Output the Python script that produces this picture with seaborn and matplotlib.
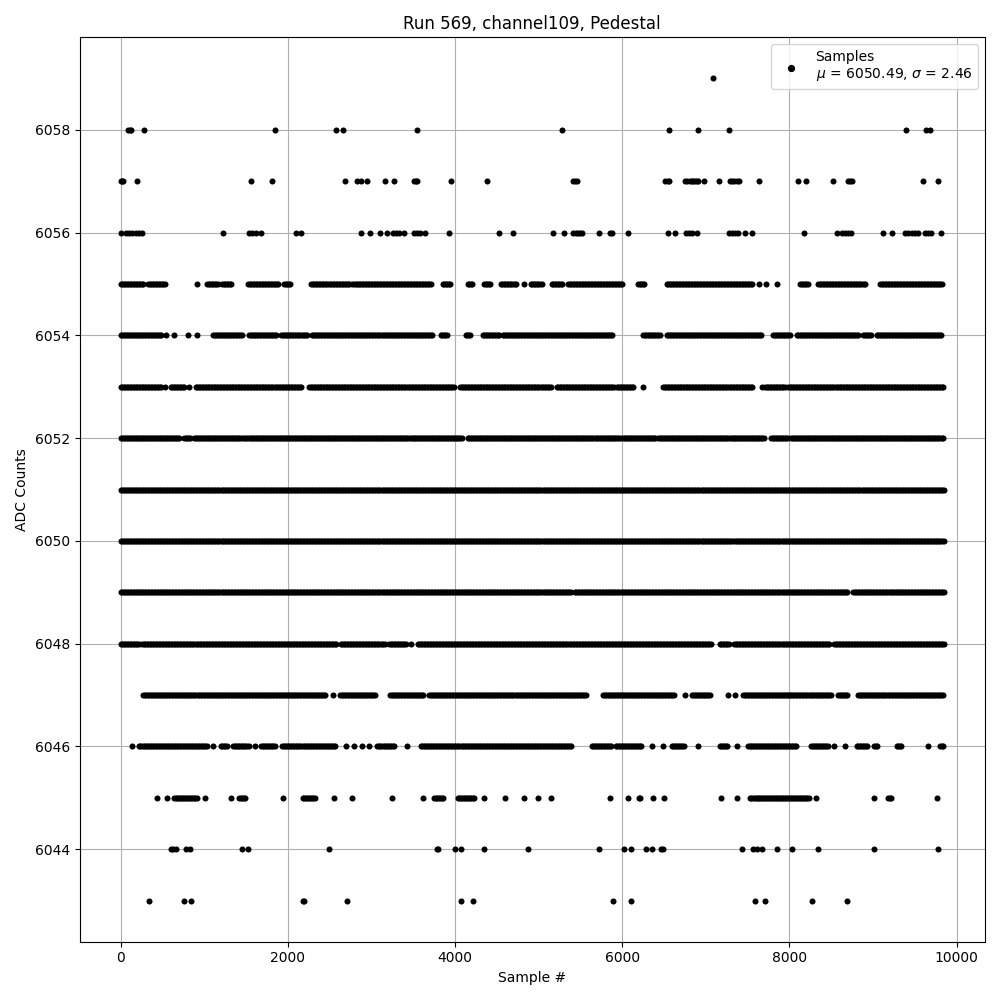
import numpy as np
import pandas as pd
import matplotlib
matplotlib.use('Agg')
import matplotlib.pyplot as plt
import seaborn as sns

# ------------------------------------------------------------
# Valori (sample # pentru fiecare nivel ADC)
# ------------------------------------------------------------
RUN = 569
CHANNEL = 109
MU = 6050.49
SIGMA = 2.46

# niveluri rare: pozitii individuale
samples_6059 = [7089]
samples_6058 = [88, 112, 128, 279, 1843, 2573, 2665, 3543, 5274, 6563, 6910,
                7281, 9399, 9639, 9687]
samples_6057 = [0, 16, 32, 192, 1556, 1807, 2681, 2825, 2873, 2945, 3160, 3268,
                3503, 3527, 3543, 3950, 4381, 5405, 5433, 5453, 6511, 6543, 6563,
                6750, 6770, 6810, 6830, 6850, 6870, 6890, 6910, 6982, 7161, 7289,
                7317, 7341, 7369, 7397, 7640, 8107, 8195, 8526, 8697, 8721, 8745,
                9603, 9783]
samples_6056 = [8, 60, 100, 140, 180, 219, 259, 1229, 1536, 1576, 1616, 1676,
                2095, 2155, 2873, 2981, 3100, 3184, 3252, 3292, 3332, 3384, 3503,
                3543, 3583, 3639, 3922, 4529, 4688, 5174, 5306, 5413, 5441, 5465,
                5493, 5521, 5725, 5852, 5880, 6072, 6551, 6630, 6758, 6798, 6838,
                6890, 7281, 7309, 7349, 7389, 7468, 7548, 8179, 8566, 8625, 8665,
                8705, 8737, 9124, 9224, 9384, 9423, 9463, 9503, 9543, 9623, 9663,
                9695, 9814]
samples_6044 = [606, 630, 658, 778, 830, 1456, 1524, 2490, 3783, 3799, 3998, 4070,
                4349, 4876, 5725, 6024, 6100, 6279, 6359, 6463, 6491, 7429, 7568,
                7608, 7668, 7847, 8035, 8338, 9016, 9775]
samples_6043 = [335, 754, 838, 2183, 2195, 2705, 4070, 4213, 5892, 6100, 7588,
                7708, 8274, 8693]

# niveluri dese: intervale (start, stop) in care punctele se suprapun
runs_6055 = [(0, 279), (327, 539), (910, 910), (1037, 1169), (1217, 1337),
             (1524, 1895), (1955, 2027), (2282, 2745), (2773, 3719), (3850, 3950),
             (4150, 4217), (4349, 4429), (4549, 4740), (4828, 4828), (4908, 5034),
             (5154, 5294), (5354, 6012), (6192, 6271), (6531, 7568), (7636, 7636),
             (7716, 7716), (7847, 7847), (8127, 8226), (8346, 8905), (9084, 9822)]
runs_6054 = [(0, 499), (539, 539), (638, 638), (806, 806), (910, 910),
             (1109, 1456), (1536, 1867), (1923, 2234), (2286, 3731), (3830, 3918),
             (4130, 4190), (4329, 4529), (4569, 5892), (6251, 6451), (6531, 7668),
             (7808, 8007), (8087, 8825), (8885, 8984), (9044, 9830)]
runs_6053 = [(0, 499), (527, 527), (598, 766), (818, 818), (898, 2175),
             (2255, 3990), (4062, 5154), (5214, 5912), (5932, 6132), (6251, 6251),
             (6491, 7568), (7668, 7668), (7708, 7947), (7987, 9850)]
runs_6052 = [(0, 718), (758, 830), (878, 1437), (1469, 4090), (4150, 5972),
             (6000, 6411), (6431, 7708), (7780, 7987), (8019, 9850)]
runs_6051 = [(0, 9850)]
runs_6050 = [(0, 7309), (7341, 9850)]
runs_6049 = [(0, 5394), (5433, 8705), (8765, 9850)]
runs_6048 = [(0, 219), (259, 2594), (2634, 3172), (3212, 3411), (3471, 3471),
             (3551, 7069), (7169, 7289), (7341, 8486), (8533, 9850)]
runs_6047 = [(271, 2454), (2534, 2534), (2625, 3052), (3224, 3631), (3691, 5573),
             (5773, 6630), (6750, 6750), (6830, 7061), (7261, 7261), (7349, 7349),
             (7448, 8506), (8586, 8705), (8825, 9850)]
runs_6046 = [(140, 140), (219, 1030), (1109, 1109), (1197, 1277), (1349, 1536),
             (1604, 1604), (1684, 1855), (1935, 2574), (2693, 2693), (2793, 2793),
             (2881, 2881), (2972, 2972), (3072, 3280), (3424, 3424), (3591, 5394),
             (5633, 5872), (5920, 6239), (6351, 6351), (6491, 6491), (6591, 6750),
             (6910, 6910), (7169, 7269), (7377, 7377), (7508, 8087), (8259, 8466),
             (8538, 8538), (8666, 8666), (8805, 8944), (9016, 9064), (9283, 9343),
             (9663, 9663), (9803, 9850)]
runs_6045 = [(439, 439), (559, 559), (638, 918), (1005, 1005), (1317, 1317),
             (1417, 1496), (1947, 1947), (2175, 2334), (2554, 2554), (2765, 2765),
             (3244, 3244), (3611, 3611), (3751, 3870), (4030, 4229), (4341, 4341),
             (4601, 4601), (4828, 4828), (4988, 5002), (5146, 5146), (5852, 5852),
             (6064, 6064), (6200, 6223), (6371, 6371), (6503, 6503), (7181, 7181),
             (7377, 7377), (7528, 8247), (8315, 8315), (9016, 9016), (9184, 9232),
             (9763, 9763)]

STEP = 18  # pasul dintre esantioane in interiorul unui interval


def expand(runs):
    out = []
    for a, b in runs:
        out.extend(range(a, b + 1, STEP) if b > a else [a])
    return out


rows = []
for level, xs in [(6059, samples_6059), (6058, samples_6058), (6057, samples_6057),
                  (6056, samples_6056), (6044, samples_6044), (6043, samples_6043)]:
    rows += [(x, level) for x in xs]
for level, runs in [(6055, runs_6055), (6054, runs_6054), (6053, runs_6053),
                    (6052, runs_6052), (6051, runs_6051), (6050, runs_6050),
                    (6049, runs_6049), (6048, runs_6048), (6047, runs_6047),
                    (6046, runs_6046), (6045, runs_6045)]:
    rows += [(x, level) for x in expand(runs)]

df = pd.DataFrame(rows, columns=['sample', 'adc'])

# ------------------------------------------------------------
# Grafic
# ------------------------------------------------------------
fig, ax = plt.subplots(figsize=(10, 10), dpi=100)
label = f"Samples\n$\\mu$ = {MU:.2f}, $\\sigma$ = {SIGMA:.2f}"
sns.scatterplot(data=df, x='sample', y='adc', color='black', s=19, linewidth=0,
                label=label, ax=ax, zorder=3)

ax.set_title(f"Run {RUN}, channel{CHANNEL}, Pedestal")
ax.set_xlabel('Sample #')
ax.set_ylabel('ADC Counts')
ax.grid(True, zorder=0)
ax.set_axisbelow(True)
ax.legend(loc='upper right', markerscale=1.2)

plt.tight_layout()
plt.savefig('out.png', dpi=100)
